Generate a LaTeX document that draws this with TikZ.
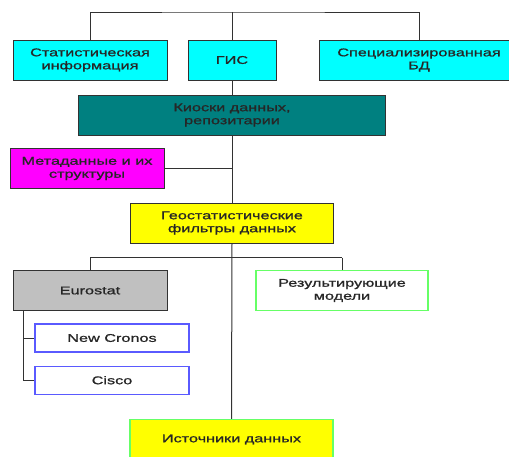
\documentclass[tikz,border=0pt]{standalone}
\usepackage{fontspec}
\setmainfont[FakeStretch=1.45, FakeBold=1]{Liberation Sans}
\usetikzlibrary{positioning}

\definecolor{cyanbox}{RGB}{0,255,255}
\definecolor{tealbox}{RGB}{0,128,128}
\definecolor{magbox}{RGB}{255,0,255}
\definecolor{yellowbox}{RGB}{255,255,0}
\definecolor{graybox}{RGB}{192,192,192}
\definecolor{greenline}{RGB}{102,255,102}
\definecolor{blueline}{RGB}{90,90,255}
\definecolor{darkline}{RGB}{50,50,50}

\begin{document}
\begin{tikzpicture}[
    x=1pt, y=-1pt,
    every node/.style={font=\fontsize{11.2}{13}\selectfont, text=black!85},
    box/.style={rectangle, draw=darkline, line width=1pt, inner sep=0pt, minimum height=40pt, align=center},
    topbox/.style={box, fill=cyanbox},
    greenbox/.style={box, draw=greenline, line width=1.5pt},
    bluebox/.style={box, draw=blueline, line width=1.2pt, minimum width=154pt, minimum height=28pt},
    link/.style={draw=darkline, line width=1pt}
]
\clip (0,0) rectangle (509,456);
\fill[white] (0,0) rectangle (509,456);

% --- верхний ряд ---
\node (gis) [topbox, minimum width=88pt] at (232,60) {ГИС};
\node (stat) [topbox, minimum width=154pt] at (90,60) {Статистическая\\информация};
\node (spec) [topbox, minimum width=200pt] at (419,60) {Специализированная\\БД};
\coordinate (top) at (232,12);

% --- центральная колонка ---
\node (kiosk) [box, fill=tealbox, minimum width=307pt, below=14pt of gis] {Киоски данных,\\репозитарии};
\node (meta) [box, fill=magbox, minimum width=154pt] at (87,168.5) {Метаданные и их\\структуры};
\node (geo) [box, fill=yellowbox, minimum width=203pt, below=67pt of kiosk] {Геостатистические\\фильтры данных};

% --- нижний уровень ---
\node (euro) [box, fill=graybox, minimum width=154pt] at (90,290.5) {Eurostat};
\node (result) [greenbox, fill=white, minimum width=172pt] at (342,290.5) {Результирующие\\модели};
\node (cronos) [bluebox] at (112,338) {New Cronos};
\node (cisco) [bluebox, below=13pt of cronos] {Cisco};
\node (sources) [greenbox, fill=yellowbox, minimum width=203pt] at (231.5,439.5) {Источники данных};

% --- соединения ---
\draw [link] (stat.north) |- (top) -| (spec.north);
\draw [link] (top) -- (gis.north);
\draw [link] (gis.south) -- (kiosk.north);
\draw [link] (kiosk.south) -- (geo.north);
\draw [link] (meta.east) -- (meta.east -| kiosk.south);
\draw [link] (geo.south) -- (sources.north);
\coordinate (fork) at ([yshift=-14pt]geo.south);
\draw [link] (euro.north |- fork) -- (result.north |- fork);
\draw [link] (euro.north |- fork) -- (euro.north);
\draw [link] (result.north |- fork) -- (result.north);
\draw [link] ([xshift=-67pt]euro.south) |- (cisco.west);
\draw [link] ([xshift=-67pt]euro.south |- cronos.west) -- (cronos.west);

\end{tikzpicture}
\end{document}
